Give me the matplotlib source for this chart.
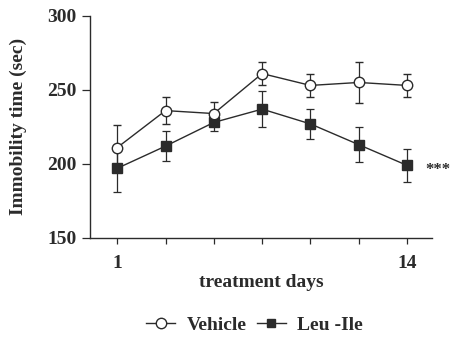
import matplotlib
matplotlib.use("Agg")
import matplotlib.pyplot as plt
from matplotlib.lines import Line2D

plt.rcParams['font.family'] = ['Liberation Serif', 'DejaVu Serif']
plt.rcParams['font.weight'] = 'bold'

# data (7 sessions between day 1 and day 14)
sessions = [0, 1, 2, 3, 4, 5, 6]
tick_labels = ["1", "", "", "", "", "", "14"]
vehicle = [211, 236, 234, 261, 253, 255, 253]
vehicle_err = [15, 9, 8, 8, 8, 14, 8]
leu_ile = [197, 212, 228, 237, 227, 213, 199]
leu_ile_err = [16, 10, 6, 12, 10, 12, 11]

INK = "#2b2b2b"

fig = plt.figure(figsize=(4.53, 3.37), dpi=100)
ax = fig.add_axes([0.199, 0.294, 0.755, 0.659])

ax.errorbar(sessions, leu_ile, yerr=leu_ile_err, color=INK, marker='s',
            markersize=7, markerfacecolor=INK, markeredgecolor=INK,
            linewidth=1.0, elinewidth=0.9, capsize=3, capthick=0.9, zorder=3)
ax.errorbar(sessions, vehicle, yerr=vehicle_err, color=INK, marker='o',
            markersize=7.5, markerfacecolor='white', markeredgecolor=INK,
            markeredgewidth=1.0, linewidth=1.0, elinewidth=0.9, capsize=3,
            capthick=0.9, zorder=4)

ax.set_xlim(-0.56, 6.52)
ax.set_ylim(150, 300)
ax.set_yticks([150, 200, 250, 300])
ax.set_xticks(sessions)
ax.set_xticklabels(tick_labels)

for s in ['top', 'right']:
    ax.spines[s].set_visible(False)
for s in ['left', 'bottom']:
    ax.spines[s].set_color(INK)
    ax.spines[s].set_linewidth(1.0)

ax.tick_params(axis='both', colors=INK, labelsize=14, width=0.9)
ax.tick_params(axis='y', length=6, pad=4)
ax.tick_params(axis='x', length=4, pad=8)

ax.set_xlabel("treatment days", fontsize=14, fontweight='bold', color=INK, labelpad=2)
ax.set_ylabel("Immobility time (sec)", fontsize=14, fontweight='bold', color=INK, labelpad=14)

ax.text(6.38, leu_ile[-1] - 3, "***", fontsize=12, fontweight='bold', color=INK,
        va='center', ha='left', clip_on=False)

handles = [Line2D([], [], color=INK, marker='o', markersize=7.5, markerfacecolor='white',
                  markeredgecolor=INK, linewidth=1.0),
           Line2D([], [], color=INK, marker='s', markersize=6, markerfacecolor=INK,
                  markeredgecolor=INK, linewidth=1.0)]
leg = fig.legend(handles, ["Vehicle", "Leu -Ile"], loc='center', bbox_to_anchor=(0.562, 0.035),
                 ncol=2, frameon=False, fontsize=14, handlelength=1.5,
                 columnspacing=0.5, handletextpad=0.6, borderpad=0.1)
for t in leg.get_texts():
    t.set_color(INK)

fig.savefig("out.png", dpi=100, facecolor='white')
